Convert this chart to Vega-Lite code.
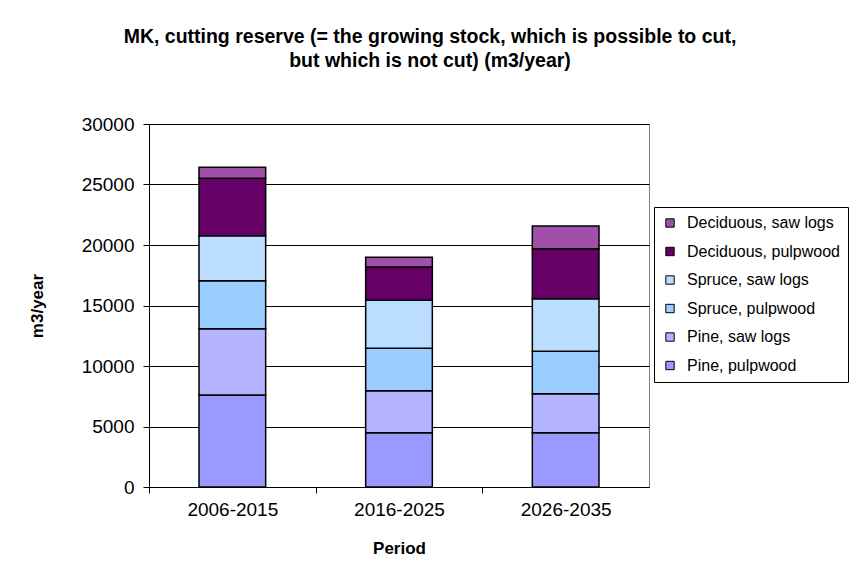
{
  "$schema": "https://vega.github.io/schema/vega-lite/v6.json",
  "width": 500,
  "height": 363,
  "autosize": {"type": "none"},
  "padding": {"left": 149, "top": 124, "right": 203, "bottom": 89},
  "background": "white",
  "config": {
    "font": "Liberation Sans",
    "view": {"stroke": "#808080", "strokeWidth": 1}
  },
  "title": {
    "text": ["MK, cutting reserve (= the growing stock, which is possible to cut,", "but which is not cut) (m3/year)"],
    "fontSize": 19.5,
    "fontWeight": "bold",
    "font": "Liberation Sans",
    "color": "black",
    "lineHeight": 24,
    "anchor": "middle",
    "frame": "group",
    "dx": 31,
    "offset": 44
  },
  "data": {
    "values": [
      {"period": "2006-2015", "type": "Pine, pulpwood", "stackRank": 1, "value": 7600},
      {"period": "2006-2015", "type": "Pine, saw logs", "stackRank": 2, "value": 5480},
      {"period": "2006-2015", "type": "Spruce, pulpwood", "stackRank": 3, "value": 3970},
      {"period": "2006-2015", "type": "Spruce, saw logs", "stackRank": 4, "value": 3720},
      {"period": "2006-2015", "type": "Deciduous, pulpwood", "stackRank": 5, "value": 4740},
      {"period": "2006-2015", "type": "Deciduous, saw logs", "stackRank": 6, "value": 910},
      {"period": "2016-2025", "type": "Pine, pulpwood", "stackRank": 1, "value": 4490},
      {"period": "2016-2025", "type": "Pine, saw logs", "stackRank": 2, "value": 3470},
      {"period": "2016-2025", "type": "Spruce, pulpwood", "stackRank": 3, "value": 3500},
      {"period": "2016-2025", "type": "Spruce, saw logs", "stackRank": 4, "value": 3970},
      {"period": "2016-2025", "type": "Deciduous, pulpwood", "stackRank": 5, "value": 2755},
      {"period": "2016-2025", "type": "Deciduous, saw logs", "stackRank": 6, "value": 800},
      {"period": "2026-2035", "type": "Pine, pulpwood", "stackRank": 1, "value": 4490},
      {"period": "2026-2035", "type": "Pine, saw logs", "stackRank": 2, "value": 3220},
      {"period": "2026-2035", "type": "Spruce, pulpwood", "stackRank": 3, "value": 3500},
      {"period": "2026-2035", "type": "Spruce, saw logs", "stackRank": 4, "value": 4350},
      {"period": "2026-2035", "type": "Deciduous, pulpwood", "stackRank": 5, "value": 4130},
      {"period": "2026-2035", "type": "Deciduous, saw logs", "stackRank": 6, "value": 1870}
    ]
  },
  "mark": {"type": "bar", "stroke": "black", "strokeWidth": 1.5},
  "encoding": {
    "x": {
      "field": "period",
      "type": "nominal",
      "scale": {"paddingInner": 0.6, "paddingOuter": 0.3},
      "axis": {
        "title": "Period",
        "titleFontSize": 17,
        "titleFontWeight": "bold",
        "titleColor": "black",
        "titlePadding": 21,
        "labelAngle": 0,
        "labelFontSize": 19,
        "labelColor": "black",
        "labelPadding": 7,
        "tickOffset": -83.33,
        "labelOffset": 83.33,
        "tickSize": 6,
        "tickColor": "black",
        "domainColor": "black",
        "domainWidth": 1
      }
    },
    "y": {
      "field": "value",
      "type": "quantitative",
      "scale": {"domain": [0, 30000], "nice": false},
      "axis": {
        "title": "m3/year",
        "titleFontSize": 17,
        "titleFontWeight": "bold",
        "titleColor": "black",
        "titlePadding": 35,
        "values": [0, 5000, 10000, 15000, 20000, 25000, 30000],
        "format": "d",
        "labelFontSize": 19,
        "labelColor": "black",
        "labelPadding": 9,
        "tickSize": 6,
        "tickColor": "black",
        "domainColor": "black",
        "gridColor": "black",
        "gridWidth": 1,
        "gridOpacity": 1
      }
    },
    "order": {"field": "stackRank", "type": "quantitative", "sort": "ascending"},
    "color": {
      "field": "type",
      "type": "nominal",
      "scale": {
        "domain": ["Pine, pulpwood", "Pine, saw logs", "Spruce, pulpwood", "Spruce, saw logs", "Deciduous, pulpwood", "Deciduous, saw logs"],
        "range": ["#9999FF", "#B3B3FF", "#99CCFF", "#BBDDFF", "#660066", "#A050A8"]
      },
      "legend": {
        "title": null,
        "orient": "none",
        "legendX": 505,
        "legendY": 83,
        "values": ["Deciduous, saw logs", "Deciduous, pulpwood", "Spruce, saw logs", "Spruce, pulpwood", "Pine, saw logs", "Pine, pulpwood"],
        "strokeColor": "black",
        "fillColor": "white",
        "padding": 8,
        "symbolType": "square",
        "symbolSize": 70,
        "symbolStrokeColor": "black",
        "symbolStrokeWidth": 1,
        "symbolOpacity": 1,
        "labelFontSize": 16,
        "labelColor": "black",
        "labelLimit": 300,
        "labelOffset": 9,
        "rowPadding": 12.5
      }
    }
  }
}
